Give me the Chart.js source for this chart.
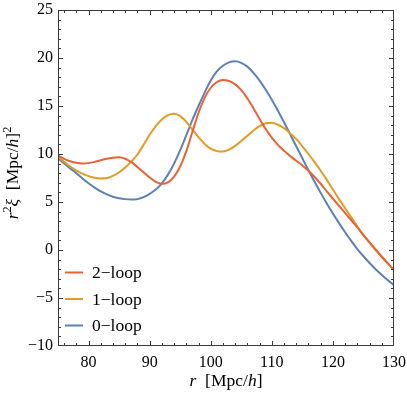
<!DOCTYPE html>
<html>
<head>
<meta charset="utf-8">
<script src="https://cdn.jsdelivr.net/npm/chart.js@4"></script>
<style>
  html, body { margin: 0; padding: 0; background: #fff; }
  #wrap { width: 407px; height: 396px; }
</style>
</head>
<body>
<div id="wrap"><canvas id="chart" width="407" height="396"></canvas></div>
<script>
// separation r in Mpc/h
const rValues = [
  75, 76, 77, 78, 79, 80, 81, 82, 83, 84, 85, 86, 87, 88, 89, 90, 91, 92, 93, 94,
  95, 96, 97, 98, 99, 100, 101, 102, 103, 104, 105, 106, 107, 108, 109, 110, 111, 112, 113, 114,
  115, 116, 117, 118, 119, 120, 121, 122, 123, 124, 125, 126, 127, 128, 129, 130
];
// r^2 xi for each order
const loop2Values = [
  9.85, 9.5, 9.25, 9.08, 9.0, 9.05, 9.18, 9.35, 9.5, 9.62, 9.65, 9.5, 9.15, 8.65, 8.1, 7.55, 7.1, 6.9, 7.05, 7.65,
  8.7, 10.3, 12.3, 14.3, 15.85, 16.9, 17.5, 17.72, 17.6, 17.25, 16.65, 15.8, 14.75, 13.65, 12.6, 11.7, 10.95, 10.35, 9.8, 9.3,
  8.8, 8.25, 7.6, 6.9, 6.1, 5.35, 4.6, 3.85, 3.1, 2.35, 1.55, 0.8, 0.05, -0.7, -1.4, -2.1
];
const loop1Values = [
  9.75, 9.2, 8.7, 8.3, 7.95, 7.7, 7.52, 7.45, 7.5, 7.72, 8.1, 8.6, 9.2, 9.95, 10.95, 12.0, 12.9, 13.6, 14.05, 14.2,
  13.95, 13.35, 12.55, 11.75, 11.05, 10.55, 10.3, 10.25, 10.45, 10.85, 11.35, 11.9, 12.45, 12.9, 13.2, 13.25, 13.05, 12.7, 12.15, 11.55,
  10.8, 10.0, 9.15, 8.25, 7.3, 6.3, 5.3, 4.35, 3.4, 2.45, 1.55, 0.75, 0.0, -0.7, -1.4, -2.1
];
const loop0Values = [
  9.55, 9.0, 8.5, 8.0, 7.45, 6.95, 6.5, 6.1, 5.8, 5.55, 5.4, 5.3, 5.25, 5.3, 5.5, 5.85, 6.3, 6.95, 7.85, 9.0,
  10.4, 11.95, 13.55, 15.0, 16.4, 17.65, 18.6, 19.2, 19.55, 19.65, 19.5, 19.1, 18.45, 17.65, 16.7, 15.65, 14.5, 13.3, 12.05, 10.8,
  9.55, 8.3, 7.1, 5.95, 4.85, 3.8, 2.8, 1.85, 0.95, 0.1, -0.65, -1.35, -2.0, -2.6, -3.15, -3.65
];
const seriesLabels = ["2\u2212loop", "1\u2212loop", "0\u2212loop"];
const seriesColors = ["#EB6235", "#E19C24", "#5E81B5"];
const xTicks = [80, 90, 100, 110, 120, 130];
const yTicks = [-10, -5, 0, 5, 10, 15, 20, 25];

const X_MIN = 75, X_MAX = 130, Y_MIN = -10, Y_MAX = 25;
const SERIF = "'Liberation Serif', 'DejaVu Serif', serif";
const FRAME = "#3a3a3a";

function toPoints(values) {
  return values.map((v, i) => ({ x: rValues[i], y: v }));
}

function minusSign(v) {
  return v < 0 ? "\u2212" + Math.abs(v) : String(v);
}

// draws a run of [text, italic, superscript] pieces centred on x
function drawPieces(ctx, pieces, x, y, size) {
  const fontOf = (p) => (p[1] ? "italic " : "") + (p[2] ? size * 0.7 : size) + "px " + SERIF;
  let width = 0;
  for (const p of pieces) {
    ctx.font = fontOf(p);
    width += ctx.measureText(p[0]).width;
  }
  let cx = x - width / 2;
  for (const p of pieces) {
    ctx.font = fontOf(p);
    ctx.fillText(p[0], cx, p[2] ? y - size * 0.38 : y);
    cx += ctx.measureText(p[0]).width;
  }
}

// frame with inward ticks, axis titles and the legend, Mathematica style
const framePlugin = {
  id: "frame",
  afterDraw(chart) {
    const ctx = chart.ctx;
    const a = chart.chartArea;
    const xs = chart.scales.x, ys = chart.scales.y;
    const left = Math.round(a.left), right = Math.round(a.right);
    const top = Math.round(a.top), bottom = Math.round(a.bottom);
    ctx.save();
    ctx.fillStyle = FRAME;
    ctx.fillRect(left, top, right - left, 1);
    ctx.fillRect(left, bottom - 1, right - left, 1);
    ctx.fillRect(left, top, 1, bottom - top);
    ctx.fillRect(right - 1, top, 1, bottom - top);

    // minor ticks every 2 on x and every 1 on y, longer at the labelled values
    for (let v = X_MIN + 1; v < X_MAX; v += 2) {
      const len = v % 10 === 0 ? 5 : 3;
      const px = Math.round(xs.getPixelForValue(v));
      ctx.fillRect(px, bottom - len, 1, len);
      ctx.fillRect(px, top, 1, len);
    }
    for (let v = Y_MIN + 1; v < Y_MAX; v += 1) {
      const len = v % 5 === 0 ? 5 : 3;
      const py = Math.round(ys.getPixelForValue(v));
      ctx.fillRect(left, py, len, 1);
      ctx.fillRect(right - len, py, len, 1);
    }

    // axis titles
    ctx.fillStyle = "#000";
    ctx.textBaseline = "alphabetic";
    ctx.textAlign = "left";
    const midX = (a.left + a.right) / 2;
    drawPieces(ctx, [["r", true], ["  [Mpc/", false], ["h", true], ["]", false]], midX, 386, 17.5);

    ctx.save();
    ctx.translate(18, (a.top + a.bottom) / 2 - 5);
    ctx.rotate(-Math.PI / 2);
    drawPieces(ctx, [["r", true], ["2", false, true], ["\u03be", true], ["  [Mpc/", false], ["h", true], ["]", false], ["2", false, true]], 0, 0, 17.5);
    ctx.restore();

    // legend
    const rows = [272.5, 299, 325.5];
    chart.data.datasets.forEach((ds, i) => {
      ctx.strokeStyle = ds.borderColor;
      ctx.lineWidth = 2;
      ctx.beginPath();
      ctx.moveTo(a.left + 7, rows[i]);
      ctx.lineTo(a.left + 25, rows[i]);
      ctx.stroke();
      ctx.fillStyle = "#000";
      ctx.font = "17.5px " + SERIF;
      ctx.textBaseline = "middle";
      ctx.fillText(ds.label, a.left + 34, rows[i] + 1);
    });
    ctx.restore();
  }
};

new Chart(document.getElementById("chart"), {
  type: "line",
  data: {
    datasets: [
      { label: seriesLabels[0], data: toPoints(loop2Values), borderColor: seriesColors[0] },
      { label: seriesLabels[1], data: toPoints(loop1Values), borderColor: seriesColors[1] },
      { label: seriesLabels[2], data: toPoints(loop0Values), borderColor: seriesColors[2] }
    ]
  },
  options: {
    responsive: false,
    animation: false,
    layout: { padding: { top: 10, right: 13, left: 0, bottom: 0 } },
    elements: {
      point: { radius: 0 },
      line: { borderWidth: 2, cubicInterpolationMode: "monotone", fill: false }
    },
    plugins: {
      legend: { display: false },
      tooltip: { enabled: false }
    },
    scales: {
      x: {
        type: "linear",
        min: X_MIN,
        max: X_MAX,
        grid: { display: false, drawTicks: false },
        border: { display: false },
        afterBuildTicks: (s) => { s.ticks = xTicks.map((v) => ({ value: v })); },
        afterFit: (s) => { s.height = 50; s.paddingLeft = 0; s.paddingRight = 0; },
        ticks: { padding: 7, color: "#000", font: { family: SERIF, size: 16 }, callback: minusSign }
      },
      y: {
        min: Y_MIN,
        max: Y_MAX,
        grid: { display: false, drawTicks: false },
        border: { display: false },
        afterBuildTicks: (s) => { s.ticks = yTicks.map((v) => ({ value: v })); },
        afterFit: (s) => { s.width = 58; s.paddingTop = 0; s.paddingBottom = 0; },
        ticks: { padding: 5, color: "#000", font: { family: SERIF, size: 16 }, callback: minusSign }
      }
    }
  },
  plugins: [framePlugin]
});
</script>
</body>
</html>
